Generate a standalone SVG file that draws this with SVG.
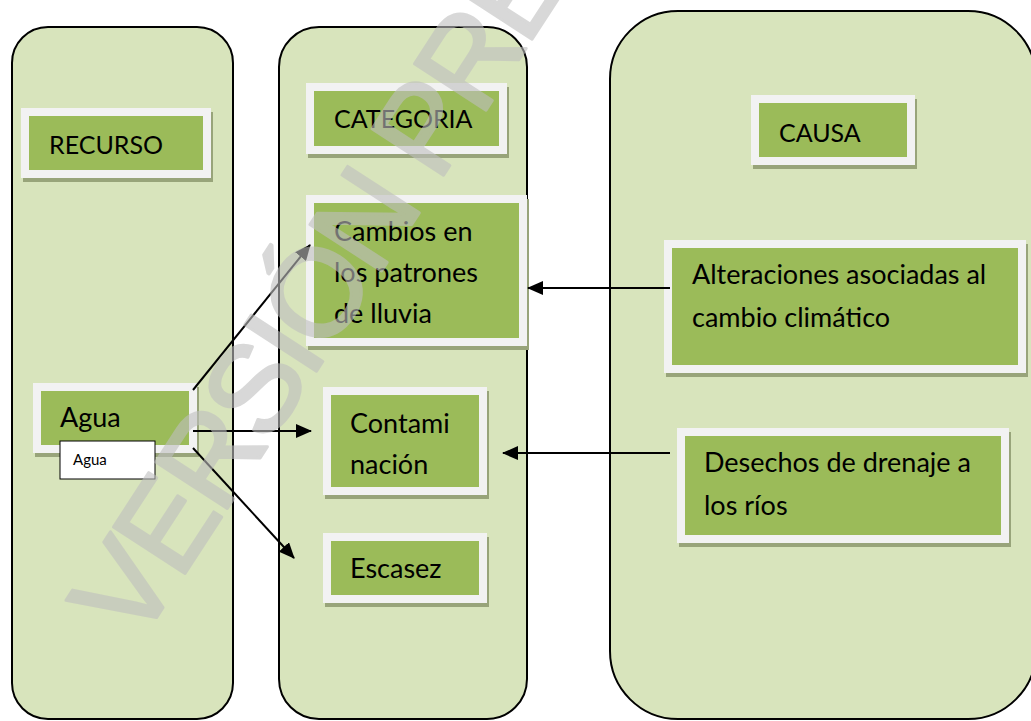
<svg xmlns="http://www.w3.org/2000/svg" width="1031" height="721" viewBox="0 0 1031 721">
<defs>
<style>
.panel{fill:#d8e4bc;stroke:#000;stroke-width:2}
.shadow{fill:#98a47a}
.frame{fill:#f2f2f2}
.inner{fill:#9bbb59}
.h{font-family:Lato,"Liberation Sans",sans-serif;font-size:25px;fill:#000}
.t{font-family:Lato,"Liberation Sans",sans-serif;font-size:27px;fill:#000}
.small{font-family:Lato,"Liberation Sans",sans-serif;font-size:15px;fill:#000}
.conn{stroke:#000;stroke-width:2;fill:none;marker-end:url(#ah)}
.wm{font-family:"Liberation Sans",Arial,sans-serif;font-size:124px;fill:#bfbfbf;stroke:#bfbfbf;stroke-width:3;stroke-linejoin:round;letter-spacing:-5px}
</style>
<marker id="ah" markerUnits="userSpaceOnUse" markerWidth="16" markerHeight="14" refX="15" refY="7" orient="auto">
<path d="M0,0 L16,7 L0,14 Z" fill="#000"/>
</marker>
</defs>
<rect width="1031" height="721" fill="#fff"/>
<g id="panel-recurso"><rect class="panel" x="12" y="27" width="221" height="692" rx="36"/></g>
<g id="panel-categoria"><rect class="panel" x="279" y="27" width="248" height="692" rx="40"/></g>
<g id="panel-causa"><rect class="panel" x="610" y="11" width="426" height="708" rx="68"/></g>

<g id="node-recurso">
<rect class="shadow" x="23" y="112" width="190" height="70"/>
<rect class="frame" x="21" y="108" width="190" height="70"/>
<rect class="inner" x="29" y="116" width="174" height="54"/>
<text class="h" x="49" y="154">RECURSO</text>
</g>
<g id="node-categoria">
<rect class="shadow" x="308" y="87" width="201" height="71"/>
<rect class="frame" x="306" y="83" width="201" height="71"/>
<rect class="inner" x="314" y="91" width="185" height="55"/>
<text class="h" x="334" y="128">CATEGORIA</text>
</g>
<g id="node-causa">
<rect class="shadow" x="753" y="99" width="164" height="70"/>
<rect class="frame" x="751" y="95" width="164" height="70"/>
<rect class="inner" x="759" y="103" width="148" height="54"/>
<text class="h" x="779" y="142">CAUSA</text>
</g>
<g id="node-cambios">
<rect class="shadow" x="308" y="199" width="221" height="151"/>
<rect class="frame" x="306" y="195" width="221" height="151"/>
<rect class="inner" x="314" y="203" width="205" height="135"/>
<text class="t" x="334" y="241">Cambios en</text>
<text class="t" x="334" y="282">los patrones</text>
<text class="t" x="334" y="323">de lluvia</text>
</g>
<g id="node-contaminacion">
<rect class="shadow" x="325" y="391" width="164" height="108"/>
<rect class="frame" x="323" y="387" width="164" height="108"/>
<rect class="inner" x="331" y="395" width="148" height="92"/>
<text class="t" x="350" y="433">Contami</text>
<text class="t" x="350" y="474">nación</text>
</g>
<g id="node-escasez">
<rect class="shadow" x="325" y="537" width="164" height="70"/>
<rect class="frame" x="323" y="533" width="164" height="70"/>
<rect class="inner" x="331" y="541" width="148" height="54"/>
<text class="t" x="350" y="578">Escasez</text>
</g>
<g id="node-alteraciones">
<rect class="shadow" x="666" y="244" width="362" height="133"/>
<rect class="frame" x="664" y="240" width="362" height="133"/>
<rect class="inner" x="672" y="248" width="346" height="117"/>
<text class="t" x="692" y="284">Alteraciones asociadas al</text>
<text class="t" x="692" y="327">cambio climático</text>
</g>
<g id="node-desechos">
<rect class="shadow" x="679" y="432" width="332" height="115"/>
<rect class="frame" x="677" y="428" width="332" height="115"/>
<rect class="inner" x="685" y="436" width="316" height="99"/>
<text class="t" x="704" y="472">Desechos de drenaje a</text>
<text class="t" x="704" y="515">los ríos</text>
</g>
<g id="node-agua">
<rect class="shadow" x="35" y="387" width="164" height="70"/>
<rect class="frame" x="33" y="383" width="164" height="70"/>
<rect class="inner" x="41" y="391" width="148" height="54"/>
<text class="t" x="60" y="427">Agua</text>
</g>
<g id="label-agua">
<rect x="60" y="441" width="95" height="38" fill="#fff" stroke="#000" stroke-width="1"/>
<text class="small" x="73" y="465">Agua</text>
</g>

<g id="connectors">
<line class="conn" x1="193" y1="390" x2="310" y2="245"/>
<line class="conn" x1="193" y1="431" x2="311" y2="431"/>
<line class="conn" x1="193" y1="448" x2="294" y2="558"/>
<line class="conn" x1="670" y1="288" x2="528" y2="288"/>
<line class="conn" x1="670" y1="453" x2="503" y2="453"/>
</g>

<g id="watermark" opacity="0.6">
<text class="wm" transform="translate(160,612) rotate(-57)" x="-42" y="0">VERSIÓN PRELIMINAR</text>
</g>
</svg>
